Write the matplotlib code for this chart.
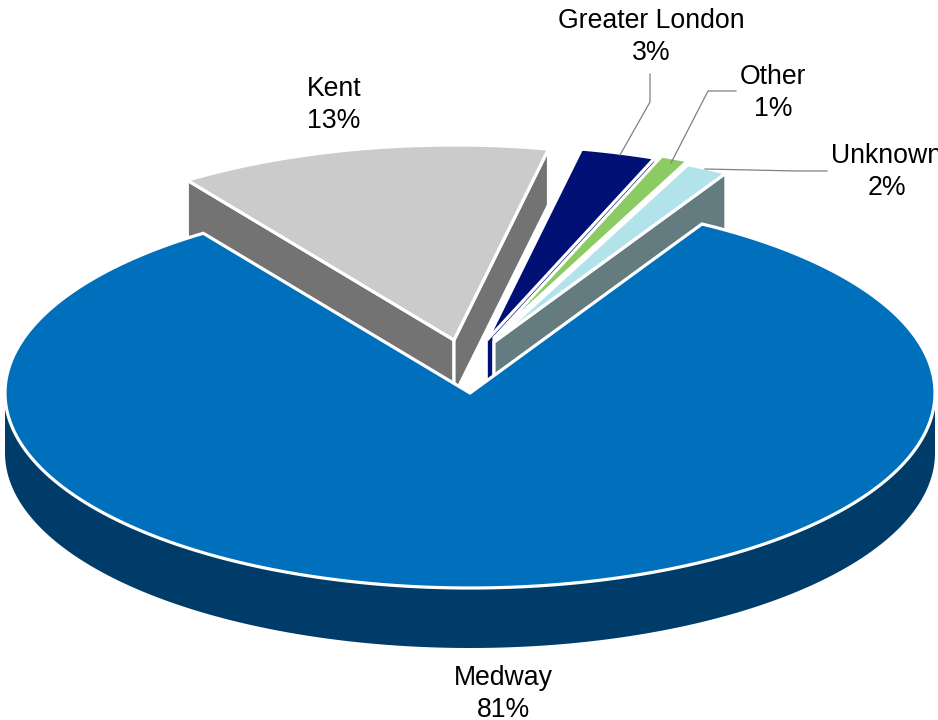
import numpy as np
import matplotlib
matplotlib.use("Agg")
import matplotlib.pyplot as plt
from matplotlib.patches import Polygon

plt.rcParams['font.family'] = ['Liberation Sans', 'DejaVu Sans']

# Data (percent shares, anticlockwise from the right edge of the gap)
categories = ["Unknown", "Other", "Greater London", "Kent", "Medway"]
values = [1.5, 1.0, 2.7, 13.4, 81.4]

# Styles
top_colors = ["#B2E2EA", "#8CCB64", "#001075", "#CBCBCB", "#0070BC"]
face_colors = ["#647C80", "#FFFFFF", "#001075", "#737373", "#003C69"]

# Layout of the 3-D projection (pixels)
START_ANGLE = 59.1
RX, RY = 465.0, 195.0
DEPTH = 56.0
MEDWAY_DEPTH = 60.0
PERSPECTIVE = 1.04
APEX = {"Unknown": (494, 342), "Other": (494, 338), "Greater London": (487, 340),
        "Kent": (454, 340), "Medway": (470, 393)}
LABEL_POS = {"Unknown": (887, 172), "Other": (773, 93), "Greater London": (651, 37),
             "Kent": (334, 105), "Medway": (503, 694)}
LEADERS = {"Greater London": [(650, 74), (650, 102), (620, 155)],
           "Other": [(736, 91), (708, 91), (671, 163)],
           "Unknown": [(827, 171), (797, 171), (705, 169)]}
EDGE_LW = 2.3

fig = plt.figure(figsize=(9.38, 7.2), dpi=100)
ax = fig.add_axes([0, 0, 1, 1])
ax.set_xlim(0, 938)
ax.set_ylim(720, 0)
ax.axis("off")


def view_angle(theta):
    """Foreshorten true angles (degrees) towards the back of the pie."""
    t = np.radians(theta)
    return np.arctan2(PERSPECTIVE * np.sin(t), np.cos(t))


def rim(apex, a0, a1, n=160):
    ang = view_angle(np.linspace(a0, a1, n))
    return np.column_stack([apex[0] + RX * np.cos(ang), apex[1] - RY * np.sin(ang)])


def add_poly(pts, fc, z, lw=EDGE_LW, ec="white"):
    ax.add_patch(Polygon(pts, closed=True, facecolor=fc, edgecolor=ec, linewidth=lw,
                         joinstyle="miter", zorder=z))


def cut_face(apex, tip, fc, z, lw=EDGE_LW):
    a, t = np.array(apex, float), np.array(tip, float)
    d = np.array([0, DEPTH])
    add_poly([a, t, t + d, a + d], fc, z, lw=lw)


edges = START_ANGLE + np.concatenate([[0], np.cumsum(values)]) * 3.6
draw_order = [3, 2, 1, 0]  # back slices: Kent first, then towards the right
z = 1
for i in draw_order:
    name = categories[i]
    apex = APEX[name]
    pts = rim(apex, edges[i], edges[i + 1])
    if name == "Kent":
        cut_face(apex, pts[-1], face_colors[i], z)
    cut_face(apex, pts[0], face_colors[i], z + 1, lw=1.2 if name == "Greater London" else EDGE_LW)
    add_poly(np.vstack([[apex], pts]), top_colors[i], z + 2)
    z += 3

# Medway: outer wall, then top surface
i = categories.index("Medway")
apex = APEX["Medway"]
front = rim(apex, 180, 360)
wall = np.vstack([front, front[::-1] + [0, MEDWAY_DEPTH]])
add_poly(wall, face_colors[i], z, lw=0, ec="none")
pts = rim(apex, edges[i], edges[i + 1], 400)
add_poly(np.vstack([[apex], pts]), top_colors[i], z + 1)
z += 2

for name, path in LEADERS.items():
    xs, ys = zip(*path)
    ax.plot(xs, ys, color="#808080", lw=0.9, zorder=z, solid_joinstyle="miter")

for name, v in zip(categories, values):
    x, y = LABEL_POS[name]
    ax.text(x, y, f"{name}\n{v:.0f}%", ha="center", va="center",
            fontsize=19.2, color="black", linespacing=1.33, zorder=z + 1, clip_on=False)

fig.savefig("out.png", dpi=100)
